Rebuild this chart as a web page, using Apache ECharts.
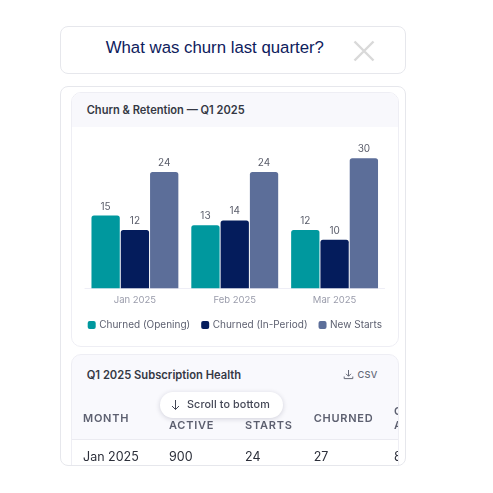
<!DOCTYPE html>
<html><head><meta charset="utf-8">
<script src="https://cdn.jsdelivr.net/npm/echarts@6/dist/echarts.min.js"></script>
<style>
html,body{margin:0;padding:0;background:#fff;width:493px;height:493px;overflow:hidden;font-family:Inter,sans-serif}
#page{position:absolute;left:0;top:0;width:493px;height:493px;filter:blur(.35px)}
.abs{position:absolute;white-space:nowrap}
.box{position:absolute;box-sizing:border-box;border:1.5px solid #e6e7ec;background:#fff}
.th{font-size:11px;font-weight:600;letter-spacing:.75px;color:#5d6070;line-height:14px}
.td{font-size:12.5px;color:#2c2f3a;line-height:16px}
</style></head><body><div id="page">
<div class="box" style="left:60px;top:26px;width:346px;height:48px;border-radius:8px"></div>
<div class="abs" style="left:105.7px;top:38px;font:16.8px 'Liberation Sans',Arial,sans-serif;color:#0d205c;line-height:20px">What was churn last quarter?</div>
<svg class="abs" style="left:352px;top:39px" width="24" height="24"><path d="M2.5 2.5L21.5 21.5M21.5 2.5L2.5 21.5" stroke="#d9d9d9" stroke-width="2.4" fill="none"/></svg>

<div class="box" style="left:60px;top:86px;width:346px;height:380px;border-radius:8px;overflow:hidden">
  <div class="box" style="left:10px;top:5px;width:328px;height:255px;border-radius:10px;border:1px solid #eeeef4;overflow:hidden">
    <div style="height:34px;background:#f8f8fc"></div>
  </div>
  <div class="box" style="left:10px;top:267px;width:328px;height:130px;border-radius:10px;border:1px solid #eeeef4;overflow:hidden;background:#f9f9fd">
    <div style="position:absolute;left:0;right:0;top:84px;height:40px;background:#fff;border-top:1px solid #ebebf1"></div>
  </div>
</div>
<div class="abs" style="left:86.7px;top:103px;font-size:11.1px;font-weight:600;color:#353844;line-height:14px">Churn &amp; Retention — Q1 2025</div>
<div id="chart" class="abs" style="left:60px;top:128px;width:346px;height:212px"></div>
<div class="abs" style="left:86.7px;top:368px;font-size:11.2px;font-weight:600;color:#353844;line-height:14px">Q1 2025 Subscription Health</div>
<svg class="abs" style="left:343px;top:369px" width="11" height="11" viewBox="0 0 11 11"><path d="M5.5 1V7M3 4.8L5.5 7.3L8 4.8M1.2 7.5V9.6H9.8V7.5" stroke="#666a78" stroke-width="1" fill="none"/></svg>
<div class="abs" style="left:357.5px;top:369px;font-size:9.2px;font-weight:500;color:#666a78;line-height:12px;letter-spacing:.3px">CSV</div>
<div id="table"></div>
<div class="abs" style="left:159.5px;top:391.5px;width:123px;height:26px;border-radius:13px;background:#fff;box-shadow:0 1px 5px rgba(30,30,60,.18)"></div>
<svg class="abs" style="left:170px;top:399px" width="11" height="12" viewBox="0 0 11 12"><path d="M5.5 1V10.5M2 7L5.5 10.5L9 7" stroke="#444756" stroke-width="1" fill="none"/></svg>
<div class="abs" style="left:187px;top:398px;font-size:10.8px;font-weight:500;color:#444756;line-height:14px;letter-spacing:.1px">Scroll to bottom</div>
</div>
<script>
var categories = ['Jan 2025', 'Feb 2025', 'Mar 2025'];
var churnedOpening = [15, 13, 12];
var churnedInPeriod = [12, 14, 10];
var newStarts = [24, 24, 30];
var tableHeaders = [['MONTH'], ['OPENING', 'ACTIVE'], ['NEW', 'STARTS'], ['CHURNED'], ['CLOSING', 'ACTIVE']];
var tableRow = ['Jan 2025', '900', '24', '27', '897'];
var columnLeft = [83, 169, 245, 313.7, 394];

var tableEl = document.getElementById('table');
var clipHtml = '';
tableHeaders.forEach(function (h, i) {
  var two = h.length > 1;
  clipHtml += '<div class="abs th" style="left:' + columnLeft[i] + 'px;top:' + (two ? 404 : 410.5) + 'px">' + h.join('<br>') + '</div>';
  clipHtml += '<div class="abs td" style="left:' + columnLeft[i] + 'px;top:448.5px">' + tableRow[i] + '</div>';
});
tableEl.innerHTML = '<div class="abs" style="left:0;top:0;width:398px;height:465px;overflow:hidden">' + clipHtml + '</div>';

var chart = echarts.init(document.getElementById('chart'), null, {renderer: 'canvas'});
function bar(name, data, color) {
  return {
    name: name, type: 'bar', data: data, barWidth: 28.3, barGap: '3.5%', clip: true,
    itemStyle: {color: color, borderRadius: [2.5, 2.5, 0, 0]},
    label: {show: true, position: 'top', distance: 4, color: '#5a5d6a', fontSize: 10, fontFamily: 'Inter'}
  };
}
chart.setOption({
  animation: false,
  grid: {left: 25, top: 30.3, width: 299.5, height: 130},
  legend: {
    left: 22.7, top: 187, itemWidth: 8, itemHeight: 8, itemGap: 11, icon: 'roundRect',
    textStyle: {color: '#5d6070', fontSize: 10, fontFamily: 'Inter', padding: [0, 0, 0, -1.5]},
    data: ['Churned (Opening)', 'Churned (In-Period)', 'New Starts']
  },
  xAxis: {
    type: 'category', data: categories,
    axisLine: {lineStyle: {color: '#eeeef6', width: 1}}, axisTick: {show: false},
    axisLabel: {color: '#9a9cab', fontSize: 9.5, margin: 7, fontFamily: 'Inter'}
  },
  yAxis: {type: 'value', min: 0, max: 26.8, show: false, splitLine: {show: false}},
  series: [
    bar('Churned (Opening)', churnedOpening, '#00989e'),
    bar('Churned (In-Period)', churnedInPeriod, '#041c5c'),
    bar('New Starts', newStarts, '#5c6e99')
  ]
});
</script>
</body></html>
